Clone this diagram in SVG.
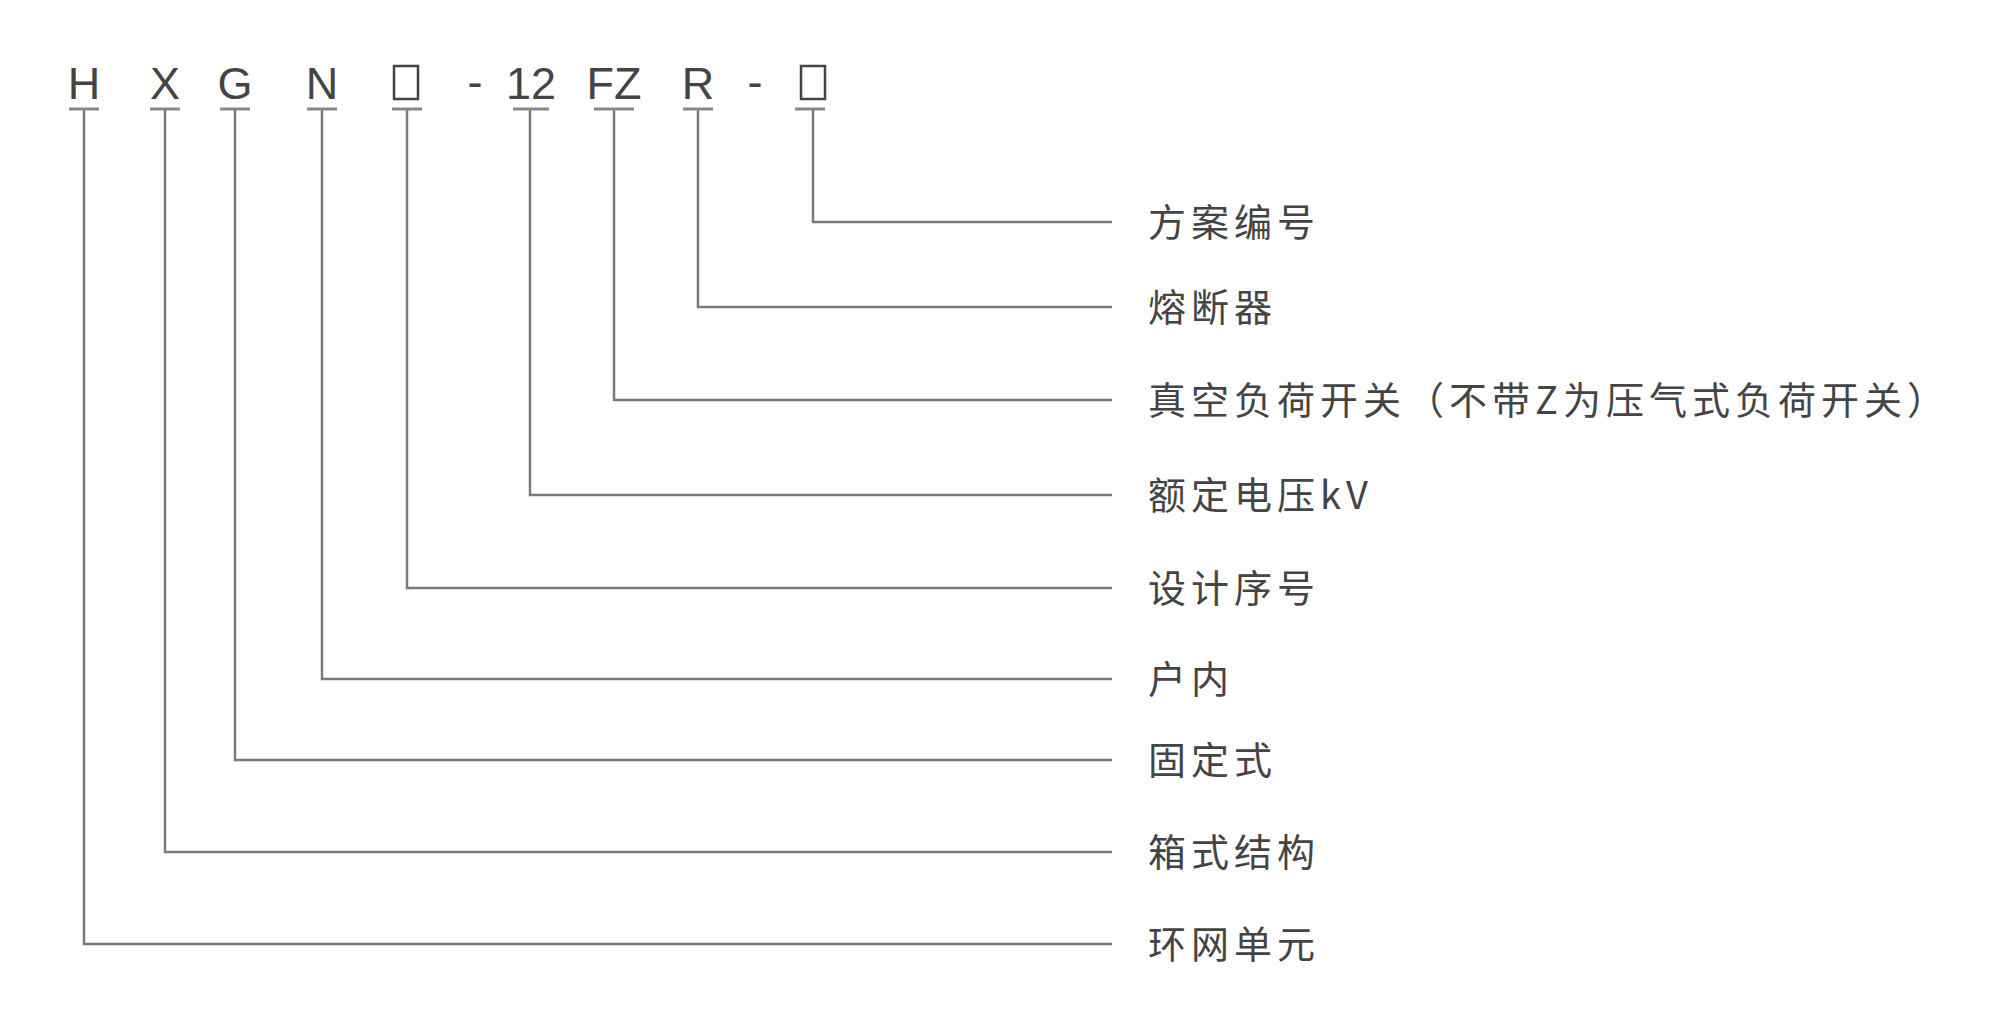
<svg xmlns="http://www.w3.org/2000/svg" width="2016" height="1035" viewBox="0 0 2016 1035">
<style>
.c{font-family:"Liberation Sans","Noto Sans CJK SC",sans-serif;font-size:45px;fill:#444;text-anchor:middle}
.l{font-family:"Noto Sans CJK SC",sans-serif;font-size:38px;fill:#444;letter-spacing:5px}
.w{stroke:#7a7a7a;stroke-width:2.5;fill:none}
.t{stroke:#888;stroke-width:3}
</style>
<rect width="2016" height="1035" fill="#fff"/>
<g id="code">
<text class="c" x="84" y="99">H</text>
<text class="c" x="165" y="99">X</text>
<text class="c" x="235" y="99">G</text>
<text class="c" x="322" y="99">N</text>
<rect x="394" y="66" width="24" height="33" fill="none" stroke="#444" stroke-width="2.5"/>
<text class="c" x="475" y="97">-</text>
<text class="c" x="531" y="99">12</text>
<text class="c" x="614" y="99">FZ</text>
<text class="c" x="698" y="99">R</text>
<text class="c" x="755" y="97">-</text>
<rect x="801" y="66" width="24" height="33" fill="none" stroke="#444" stroke-width="2.5"/>
</g>
<g id="ticks">
<path class="t" d="M69 109h30M150 109h30M220 109h30M307 109h30M392 109h30M513 109h36M594 109h40M683 109h30M795 109h30"/>
</g>
<g id="connectors">
<path class="w" d="M813 110V222H1112"/>
<path class="w" d="M698 110V307H1112"/>
<path class="w" d="M614 110V400H1112"/>
<path class="w" d="M530 110V495H1112"/>
<path class="w" d="M407 110V588H1112"/>
<path class="w" d="M322 110V679H1112"/>
<path class="w" d="M235 110V760H1112"/>
<path class="w" d="M165 110V852H1112"/>
<path class="w" d="M84 110V944H1112"/>
</g>
<g id="labels">
<text class="l" x="1148" y="236">方案编号</text>
<text class="l" x="1148" y="321">熔断器</text>
<text class="l" x="1148" y="414">真空负荷开关（不带Z为压气式负荷开关）</text>
<text class="l" x="1148" y="509">额定电压kV</text>
<text class="l" x="1148" y="602">设计序号</text>
<text class="l" x="1148" y="693">户内</text>
<text class="l" x="1148" y="774">固定式</text>
<text class="l" x="1148" y="866">箱式结构</text>
<text class="l" x="1148" y="958">环网单元</text>
</g>
</svg>
